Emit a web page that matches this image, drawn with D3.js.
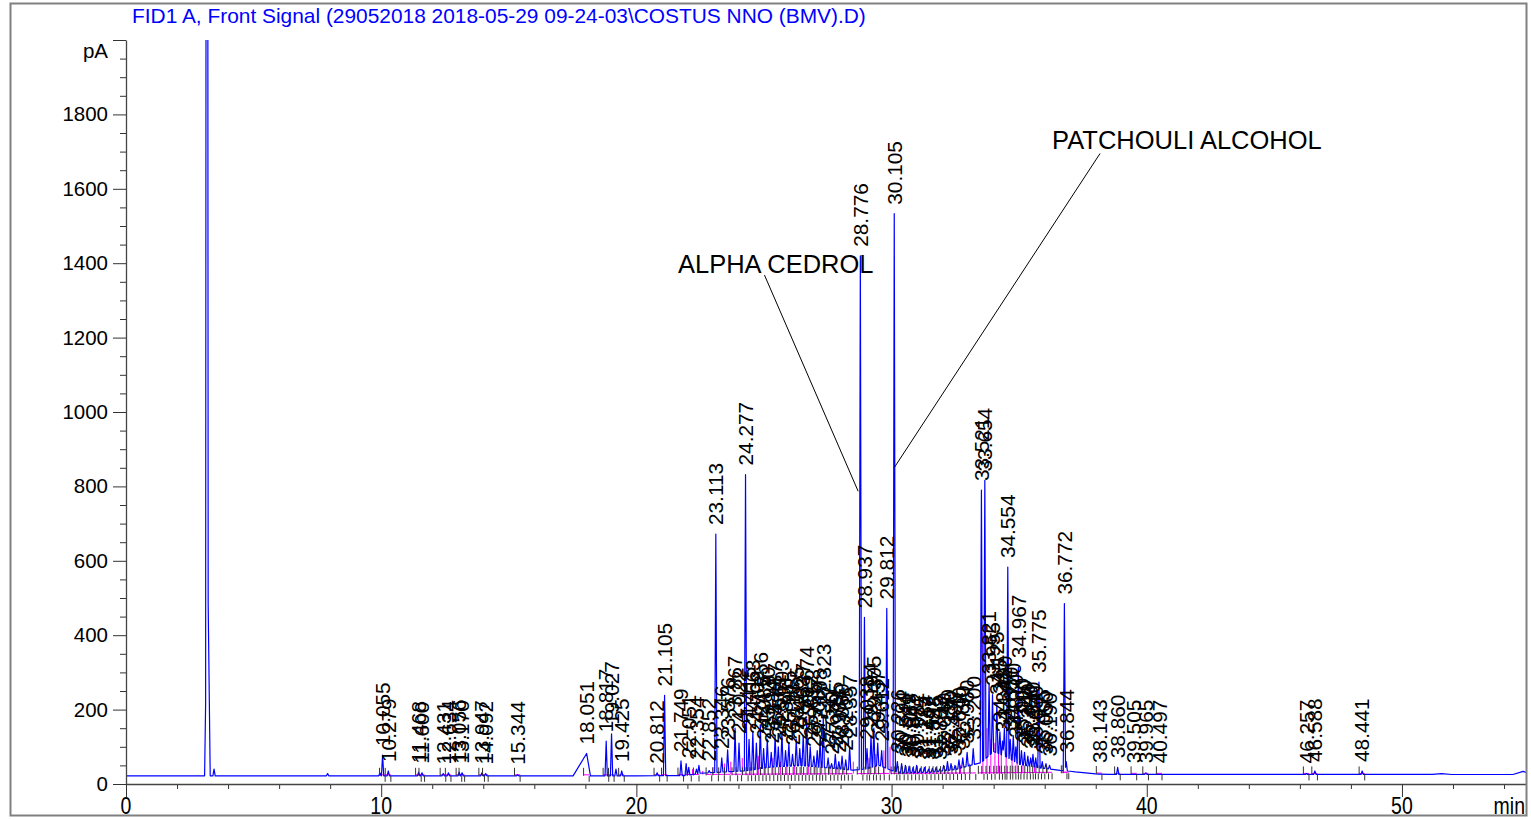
<!DOCTYPE html>
<html><head><meta charset="utf-8">
<script src="https://cdn.jsdelivr.net/npm/d3@7"></script>
<style>
body{margin:0;background:#fff}
svg{display:block}
text{font-family:"Liberation Sans",Arial,Helvetica,sans-serif}
</style>
</head><body>
<svg id="chart" width="1531" height="820"></svg>
<script>
// ---------------- DATA ----------------
const titleText = "FID1 A, Front Signal (29052018 2018-05-29 09-24-03\\COSTUS NNO (BMV).D)";
const yUnit = "pA";
const xUnit = "min";
const yMajorTicks = [0,200,400,600,800,1000,1200,1400,1600,1800,2000];
const xMajorTicks = [0,10,20,30,40,50];

// true baseline of the detector signal [min, pA]
const baselineKnots = [[0,22],[20,22],[28,25],[33,27],[37,29],[38.5,26],[55,25.5]];
// unresolved hump under the crowded regions [min, extra pA]
const humpKnots = [[0,0],[21.9,0],[22.5,6],[24.3,12],[25.3,22],[26.5,25],[27.6,18],[28.5,12],[29.0,15],[29.5,25],[29.95,12],[30.3,4],[31.5,5],[32.5,12],[33.2,25],[33.5,30],[34.0,60],[34.5,45],[35.0,25],[35.8,15],[36.6,8],[37.2,4],[38,0],[55,0]];

// labelled peaks: [retention time (min), apex (pA)]
const labelledPeaks = [
 [10.055,78],[10.279,35],[11.468,32],[11.600,30],[12.431,28],[12.634,30],[13.056,32],[13.170,30],
 [13.947,30],[14.092,28],[15.344,25],[18.051,82],[18.817,115],[19.027,135],[19.425,35],[20.812,30],
 [21.105,238],[21.749,62],[22.051,45],[22.354,40],[22.852,36],[23.113,672],[23.346,70],[23.576,92],
 [23.867,150],[24.022,110],[24.277,832],[24.415,120],[24.563,140],[24.702,110],[24.856,160],[24.985,95],
 [25.130,120],[25.284,85],[25.437,130],[25.561,100],[25.703,140],[25.846,90],[25.975,110],[26.118,80],
 [26.265,120],[26.402,95],[26.537,130],[26.674,175],[26.812,100],[26.955,75],[27.087,90],[27.198,115],
 [27.323,182],[27.512,70],[27.650,55],[27.795,80],[27.934,60],[28.060,75],[28.205,65],[28.357,100],
 [28.776,1420],[28.937,448],[29.038,95],[29.194,130],[29.305,150],[29.457,110],[29.612,90],[29.812,472],
 [30.105,1533],[30.226,60],[30.394,55],[30.541,50],[30.689,48],[30.841,45],[30.982,50],[31.125,42],
 [31.284,45],[31.447,40],[31.598,42],[31.745,45],[31.893,40],[32.040,50],[32.190,60],[32.330,55],
 [32.486,50],[32.640,65],[32.790,70],[32.960,85],[33.200,95],[33.521,790],[33.654,816],[33.821,270],
 [33.955,240],[34.125,215],[34.245,140],[34.348,115],[34.420,150],[34.554,583],[34.650,120],[34.770,130],
 [34.870,100],[34.967,314],[35.090,90],[35.210,85],[35.340,75],[35.450,70],[35.540,80],[35.650,70],
 [35.775,274],[35.905,60],[36.050,55],[36.190,50],[36.772,485],[36.844,60],[38.143,25],[38.860,45],
 [39.505,26],[39.965,30],[40.497,26],[46.257,28],[46.588,35],[48.441,35]
];
// unlabelled narrow peaks: [retention time (min), apex (pA)] (solvent peak is off scale)
const unlabelledPeaks = [[3.17,6000],[3.45,40],[7.90,28],[9.95,30],[19.20,40],[21.95,55],[22.45,50]];
// broad peaks: [start, apex, end (min), apex (pA)]
const broadPeaks = [[3.08,3.20,3.30,600],[17.52,18.051,18.20,82],[51.2,51.55,51.95,28],[54.35,54.75,55.1,34]];
// magenta integration drop lines: [time (min), top (pA)]
const dropLines = [
 [22.2,40],[22.6,35],[23.0,45],[23.45,55],[23.7,60],[24.15,70],[24.5,60],[24.78,75],[25.05,55],[25.35,70],
 [25.65,60],[25.9,65],[26.2,50],[26.47,70],[26.75,55],[27.0,45],[27.26,60],[27.58,50],[27.86,45],[28.13,40],
 [28.5,60],[29.12,70],[29.38,80],[29.70,90],[29.94,100],[30.3,35],[30.9,35],[31.5,35],[32.1,40],[32.7,50],
 [33.05,55],[33.58,405],[33.74,150],[33.89,120],[34.05,110],[34.19,95],[34.3,90],[34.49,85],[34.72,70],
 [34.92,60],[35.15,55],[35.6,45],[36.1,40]
];
// annotations: text anchor [min,pA], leader start [min,pA], leader end [min,pA]
const annotationNames = ["ALPHA CEDROL","PATCHOULI ALCOHOL"];
const annotationText = [[21.63,1374],[36.29,1707]];
const annotationFrom = [[25.02,1368],[38.17,1695]];
const annotationTo = [[28.69,787],[30.12,852]];

// ---------------- DRAWING ----------------
const svg = d3.select("#chart");
const x = d3.scaleLinear().domain([0,54.9]).range([126,1527]);
const y = d3.scaleLinear().domain([0,2000]).range([784,40]);
const baseF = d3.scaleLinear().domain(baselineKnots.map(d=>d[0])).range(baselineKnots.map(d=>d[1])).clamp(true);
const humpF = d3.scaleLinear().domain(humpKnots.map(d=>d[0])).range(humpKnots.map(d=>d[1])).clamp(true);
const floorF = t => baseF(t) + humpF(t);

const defs = svg.append("defs");
defs.append("clipPath").attr("id","frameClip").append("rect").attr("x",11).attr("y",4).attr("width",1515).attr("height",811);
defs.append("clipPath").attr("id","plotClip").append("rect").attr("x",x(0)).attr("y",y(2000)).attr("width",x(54.9)-x(0)).attr("height",y(0)-y(2000)+2);

const root = svg.append("g").attr("clip-path","url(#frameClip)");

// title
root.append("text").attr("x",132).attr("y",23).attr("font-size",20.9).attr("fill","#0000ff").text(titleText);

// shapes: [start, apex, end, amplitude]
const shapes = [];
function inBroad(t){ return broadPeaks.some(b=>t>=b[0]&&t<=b[2]); }
labelledPeaks.concat(unlabelledPeaks).forEach(p=>{
  const solvent = p[1] > 2000;
  if (inBroad(p[0]) && !solvent) return;
  const w = solvent ? 0.05 : 0.045;
  shapes.push([p[0]-w, p[0], p[0]+w, Math.max(0, p[1]-floorF(p[0]))]);
});
broadPeaks.forEach(b=>shapes.push([b[0], b[1], b[2], Math.max(0,b[3]-floorF(b[1]))]));
function tri(s,t){
  if (t<=s[0]||t>=s[2]) return 0;
  return t<=s[1] ? s[3]*(t-s[0])/(s[1]-s[0]) : s[3]*(s[2]-t)/(s[2]-s[1]);
}
function signal(t){ return floorF(t) + d3.sum(shapes, s=>tri(s,t)); }
let times = [];
baselineKnots.forEach(d=>times.push(d[0]));
humpKnots.forEach(d=>times.push(d[0]));
shapes.forEach(s=>{times.push(s[0],s[1],s[2]);});
times.push(54.9);
times = Array.from(new Set(times.map(t=>+t.toFixed(5)))).filter(t=>t>=0&&t<=54.9).sort((a,b)=>a-b);
const tracePts = times.map(t=>[t, signal(t)]);

const plot = root.append("g").attr("clip-path","url(#plotClip)");

// magenta integration baselines under labelled peaks
const magenta = "#ff00ff";
labelledPeaks.forEach(p=>{
  plot.append("line").attr("x1",x(p[0]-0.12)).attr("x2",x(p[0]+0.1))
    .attr("y1",y(baseF(p[0]-0.12))-1).attr("y2",y(baseF(p[0]+0.1))-1)
    .attr("stroke",magenta).attr("stroke-width",1);
});
dropLines.forEach(d=>{
  plot.append("line").attr("x1",x(d[0])).attr("x2",x(d[0]))
    .attr("y1",y(baseF(d[0]))-1).attr("y2",y(d[1]))
    .attr("stroke",magenta).attr("stroke-width",1);
});

// trace
plot.append("path").datum(tracePts)
  .attr("d", d3.line().x(d=>x(d[0])).y(d=>y(d[1])))
  .attr("fill","none").attr("stroke","#0000ff").attr("stroke-width",1.2).attr("stroke-linejoin","round");

// start/end markers
labelledPeaks.forEach(p=>{
  const b1 = y(baseF(p[0]-0.12)), b2 = y(baseF(p[0]+0.1));
  root.append("line").attr("x1",x(p[0]-0.12)).attr("x2",x(p[0]-0.12)).attr("y1",b1-8).attr("y2",b1)
    .attr("stroke","#333").attr("stroke-width",1);
  root.append("line").attr("x1",x(p[0]+0.1)).attr("x2",x(p[0]+0.1)).attr("y1",b2).attr("y2",b2+6)
    .attr("stroke","#333").attr("stroke-width",1);
});

// peak labels
labelledPeaks.forEach(p=>{
  const yb = Math.min(y(p[1]) - 9, y(baseF(p[0])) - 11);
  root.append("text")
    .attr("transform",`translate(${x(p[0])},${yb}) rotate(-90)`)
    .attr("dy","0.35em").attr("font-size",20.8).attr("fill","#000")
    .text(p[0].toFixed(3));
});

// annotations
annotationNames.forEach((name,i)=>{
  root.append("text").attr("x",x(annotationText[i][0])).attr("y",y(annotationText[i][1]))
    .attr("font-size",25.5).attr("fill","#000").text(name);
  root.append("line").attr("x1",x(annotationFrom[i][0])).attr("y1",y(annotationFrom[i][1]))
    .attr("x2",x(annotationTo[i][0])).attr("y2",y(annotationTo[i][1]))
    .attr("stroke","#000").attr("stroke-width",1);
});

// y axis
const yMinor = d3.range(0,2001,50).filter(v=>v%200!==0);
const axCol = "#333";
const gy = root.append("g").attr("transform",`translate(${x(0)},0)`);
gy.call(d3.axisLeft(y).tickValues(yMinor).tickSize(6).tickFormat("").tickSizeOuter(0));
gy.call(g=>g.select(".domain").remove());
const gy2 = root.append("g").attr("transform",`translate(${x(0)},0)`);
gy2.call(d3.axisLeft(y).tickValues(yMajorTicks).tickSize(13).tickPadding(5).tickSizeOuter(0)
  .tickFormat(d=> d===2000 ? "" : d));
gy2.selectAll("text").attr("font-size",20.5).attr("fill","#000").attr("font-family",'"Liberation Sans",Arial,sans-serif');
gy.selectAll("line").attr("stroke",axCol);
gy2.selectAll("line").attr("stroke",axCol);
gy2.select(".domain").attr("stroke","#444").attr("stroke-width",1.3);
root.append("text").attr("x",x(0)-18).attr("y",y(2000)+18).attr("text-anchor","end")
  .attr("font-size",20.5).attr("fill","#000").text(yUnit);

// x axis
const xMinor = d3.range(0,55,2).filter(v=>v%10!==0);
const gx = root.append("g").attr("transform",`translate(0,${y(0)})`);
gx.call(d3.axisBottom(x).tickValues(xMinor).tickSize(5).tickFormat("").tickSizeOuter(0));
gx.select(".domain").remove();
const gx2 = root.append("g").attr("transform",`translate(0,${y(0)})`);
gx2.call(d3.axisBottom(x).tickValues(xMajorTicks).tickSize(13).tickFormat("").tickSizeOuter(0));
gx.selectAll("line").attr("stroke",axCol);
gx2.selectAll("line").attr("stroke",axCol);
gx2.select(".domain").attr("stroke","#444").attr("stroke-width",1.3);
xMajorTicks.forEach(v=>{
  root.append("text").attr("transform",`translate(${x(v)},${y(0)+30}) scale(1,1.2)`)
    .attr("text-anchor","middle").attr("font-size",19.5).attr("fill","#000").text(v);
});
root.append("text").attr("transform",`translate(${x(54.9)-2},${y(0)+30}) scale(1,1.2)`)
  .attr("text-anchor","end").attr("font-size",19.5).attr("fill","#000").text(xUnit);

// frame
svg.append("rect").attr("x",10.5).attr("y",3.5).attr("width",1516).attr("height",812)
  .attr("fill","none").attr("stroke","#808080").attr("stroke-width",2);
</script>
</body></html>
